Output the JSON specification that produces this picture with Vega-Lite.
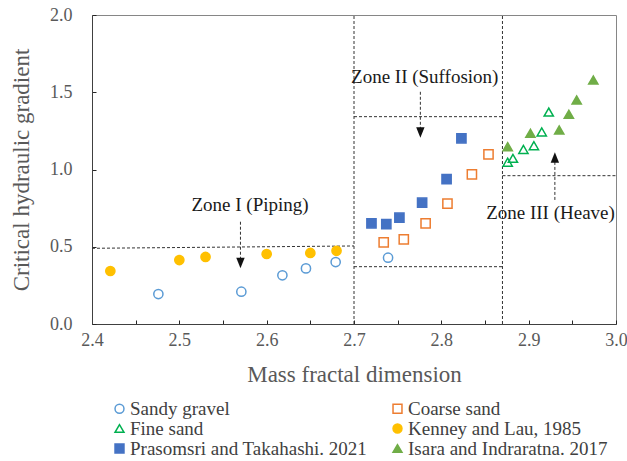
{
  "$schema": "https://vega.github.io/schema/vega-lite/v6.json",
  "width": 524,
  "height": 309,
  "autosize": "none",
  "padding": {"left": 92, "top": 15, "right": 11, "bottom": 137},
  "background": "white",
  "config": {
    "font": "Liberation Serif",
    "view": {"stroke": "#868686", "strokeWidth": 1},
    "axis": {
      "grid": false,
      "domainColor": "#404040",
      "tickColor": "#262626",
      "tickSize": -4,
      "tickWidth": 1,
      "labelFont": "Liberation Serif",
      "labelFontSize": 18,
      "labelColor": "#595959",
      "labelFlush": false,
      "labelOverlap": false,
      "titleFont": "Liberation Serif",
      "titleFontSize": 23,
      "titleFontWeight": "normal",
      "titleColor": "#595959"
    },
    "legend": {
      "labelFont": "Liberation Serif",
      "labelFontSize": 19,
      "labelColor": "#404040",
      "labelLimit": 0,
      "symbolSize": 80,
      "symbolStrokeWidth": 1.5,
      "labelOffset": 1
    }
  },
  "datasets": {
    "points": [
      {"series": "Sandy gravel", "d": 2.476, "i": 0.194},
      {"series": "Sandy gravel", "d": 2.571, "i": 0.209},
      {"series": "Sandy gravel", "d": 2.618, "i": 0.315},
      {"series": "Sandy gravel", "d": 2.645, "i": 0.36},
      {"series": "Sandy gravel", "d": 2.679, "i": 0.401},
      {"series": "Sandy gravel", "d": 2.739, "i": 0.429},
      {"series": "Coarse sand", "d": 2.734, "i": 0.529},
      {"series": "Coarse sand", "d": 2.757, "i": 0.548},
      {"series": "Coarse sand", "d": 2.782, "i": 0.652},
      {"series": "Coarse sand", "d": 2.807, "i": 0.779},
      {"series": "Coarse sand", "d": 2.835, "i": 0.969},
      {"series": "Coarse sand", "d": 2.854, "i": 1.098},
      {"series": "Fine sand", "d": 2.876, "i": 1.047},
      {"series": "Fine sand", "d": 2.882, "i": 1.072},
      {"series": "Fine sand", "d": 2.894, "i": 1.13},
      {"series": "Fine sand", "d": 2.906, "i": 1.154},
      {"series": "Fine sand", "d": 2.915, "i": 1.243},
      {"series": "Fine sand", "d": 2.923, "i": 1.372},
      {"series": "Kenney and Lau, 1985", "d": 2.421, "i": 0.343},
      {"series": "Kenney and Lau, 1985", "d": 2.5, "i": 0.414},
      {"series": "Kenney and Lau, 1985", "d": 2.53, "i": 0.434},
      {"series": "Kenney and Lau, 1985", "d": 2.6, "i": 0.453},
      {"series": "Kenney and Lau, 1985", "d": 2.65, "i": 0.46},
      {"series": "Kenney and Lau, 1985", "d": 2.68, "i": 0.474},
      {"series": "Prasomsri and Takahashi. 2021", "d": 2.72, "i": 0.652},
      {"series": "Prasomsri and Takahashi. 2021", "d": 2.737, "i": 0.647},
      {"series": "Prasomsri and Takahashi. 2021", "d": 2.752, "i": 0.688},
      {"series": "Prasomsri and Takahashi. 2021", "d": 2.778, "i": 0.785},
      {"series": "Prasomsri and Takahashi. 2021", "d": 2.806, "i": 0.938},
      {"series": "Prasomsri and Takahashi. 2021", "d": 2.823, "i": 1.202},
      {"series": "Isara and Indraratna. 2017", "d": 2.876, "i": 1.148},
      {"series": "Isara and Indraratna. 2017", "d": 2.902, "i": 1.234},
      {"series": "Isara and Indraratna. 2017", "d": 2.935, "i": 1.256},
      {"series": "Isara and Indraratna. 2017", "d": 2.946, "i": 1.357},
      {"series": "Isara and Indraratna. 2017", "d": 2.955, "i": 1.45},
      {"series": "Isara and Indraratna. 2017", "d": 2.974, "i": 1.579}
    ],
    "zones": [
      {"x1": 2.7, "x2": 2.7, "y1": 0, "y2": 2.0},
      {"x1": 2.87, "x2": 2.87, "y1": 0, "y2": 2.0},
      {"x1": 2.4, "x2": 2.7, "y1": 0.49, "y2": 0.505},
      {"x1": 2.7, "x2": 2.87, "y1": 1.342, "y2": 1.342},
      {"x1": 2.7, "x2": 2.87, "y1": 0.371, "y2": 0.371},
      {"x1": 2.87, "x2": 3.0, "y1": 0.96, "y2": 0.96}
    ],
    "arrows": [
      {"zone": "Zone I (Piping)", "x": 2.57, "shaft": 0.662, "head": 0.395, "dir": "down", "lx": 2.581, "ly": 0.77},
      {"zone": "Zone II (Suffosion)", "x": 2.776, "shaft": 1.503, "head": 1.239, "dir": "down", "lx": 2.781, "ly": 1.6},
      {"zone": "Zone III (Heave)", "x": 2.93, "shaft": 0.803, "head": 1.078, "dir": "up", "lx": 2.925, "ly": 0.72}
    ]
  },
  "layer": [
    {
      "data": {"name": "zones"},
      "mark": {"type": "rule", "color": "#333333", "strokeWidth": 1, "strokeDash": [3, 2]},
      "encoding": {
        "x": {"field": "x1", "type": "quantitative", "title": "Mass fractal dimension"},
        "x2": {"field": "x2"},
        "y": {"field": "y1", "type": "quantitative", "title": "Critical hydraulic gradient"},
        "y2": {"field": "y2"}
      }
    },
    {
      "data": {"name": "arrows"},
      "mark": {"type": "rule", "color": "#333333", "strokeWidth": 1, "strokeDash": [3, 2]},
      "encoding": {
        "x": {"field": "x", "type": "quantitative", "title": "Mass fractal dimension"},
        "y": {"field": "shaft", "type": "quantitative", "title": "Critical hydraulic gradient"},
        "y2": {"field": "head"}
      }
    },
    {
      "data": {"name": "arrows"},
      "transform": [{"filter": "datum.dir === 'down'"}],
      "mark": {"type": "point", "shape": "M-0.8,-1L0.8,-1L0,1Z", "filled": true, "color": "#111111", "opacity": 1, "size": 110},
      "encoding": {
        "x": {"field": "x", "type": "quantitative", "title": "Mass fractal dimension"},
        "y": {"field": "head", "type": "quantitative", "title": "Critical hydraulic gradient"}
      }
    },
    {
      "data": {"name": "arrows"},
      "transform": [{"filter": "datum.dir === 'up'"}],
      "mark": {"type": "point", "shape": "M-0.8,1L0.8,1L0,-1Z", "filled": true, "color": "#111111", "opacity": 1, "size": 110},
      "encoding": {
        "x": {"field": "x", "type": "quantitative", "title": "Mass fractal dimension"},
        "y": {"field": "head", "type": "quantitative", "title": "Critical hydraulic gradient"}
      }
    },
    {
      "data": {"name": "arrows"},
      "mark": {"type": "text", "font": "Liberation Serif", "fontSize": 19, "color": "#1a1a1a", "align": "center", "baseline": "middle"},
      "encoding": {
        "x": {"field": "lx", "type": "quantitative", "title": "Mass fractal dimension"},
        "y": {"field": "ly", "type": "quantitative", "title": "Critical hydraulic gradient"},
        "text": {"field": "zone"}
      }
    },
    {
      "data": {"name": "points"},
      "mark": {"type": "point", "strokeWidth": 1.5, "opacity": 1, "size": 85},
      "encoding": {
        "x": {
          "field": "d",
          "type": "quantitative",
          "title": "Mass fractal dimension",
          "scale": {"domain": [2.4, 3.0], "nice": false, "zero": false},
          "axis": {
            "values": [2.4, 2.45, 2.5, 2.55, 2.6, 2.65, 2.7, 2.75, 2.8, 2.85, 2.9, 2.95, 3.0],
            "labelExpr": "round(datum.value * 100) % 10 == 0 ? format(datum.value, '.1f') : ''",
            "labelPadding": 11,
            "titlePadding": 14
          }
        },
        "y": {
          "field": "i",
          "type": "quantitative",
          "title": "Critical hydraulic gradient",
          "scale": {"domain": [0, 2.0], "nice": false},
          "axis": {
            "values": [0, 0.25, 0.5, 0.75, 1.0, 1.25, 1.5, 1.75, 2.0],
            "labelExpr": "round(datum.value * 100) % 50 == 0 ? format(datum.value, '.1f') : ''",
            "labelPadding": 24,
            "titlePadding": 16
          }
        },
        "shape": {
          "field": "series",
          "type": "nominal",
          "scale": {
            "domain": ["Sandy gravel", "Fine sand", "Prasomsri and Takahashi. 2021", "Coarse sand", "Kenney and Lau, 1985", "Isara and Indraratna. 2017"],
            "range": ["circle", "triangle-up", "square", "square", "circle", "triangle-up"]
          },
          "legend": {"title": null, "orient": "none", "legendX": 18, "legendY": 384, "columns": 2, "columnPadding": 20, "rowPadding": -1, "labelFont": "Liberation Serif", "labelFontSize": 19}
        },
        "stroke": {
          "field": "series",
          "type": "nominal",
          "scale": {
            "domain": ["Sandy gravel", "Fine sand", "Prasomsri and Takahashi. 2021", "Coarse sand", "Kenney and Lau, 1985", "Isara and Indraratna. 2017"],
            "range": ["#5B9BD5", "#00B050", "#4472C4", "#ED7D31", "#FFC000", "#70AD47"]
          },
          "legend": {"title": null, "orient": "none", "legendX": 18, "legendY": 384, "columns": 2, "columnPadding": 20, "rowPadding": -1, "labelFont": "Liberation Serif", "labelFontSize": 19}
        },
        "fill": {
          "field": "series",
          "type": "nominal",
          "scale": {
            "domain": ["Sandy gravel", "Fine sand", "Prasomsri and Takahashi. 2021", "Coarse sand", "Kenney and Lau, 1985", "Isara and Indraratna. 2017"],
            "range": ["transparent", "transparent", "#4472C4", "transparent", "#FFC000", "#70AD47"]
          },
          "legend": {"title": null, "orient": "none", "legendX": 18, "legendY": 384, "columns": 2, "columnPadding": 20, "rowPadding": -1, "labelFont": "Liberation Serif", "labelFontSize": 19}
        }
      }
    }
  ]
}
